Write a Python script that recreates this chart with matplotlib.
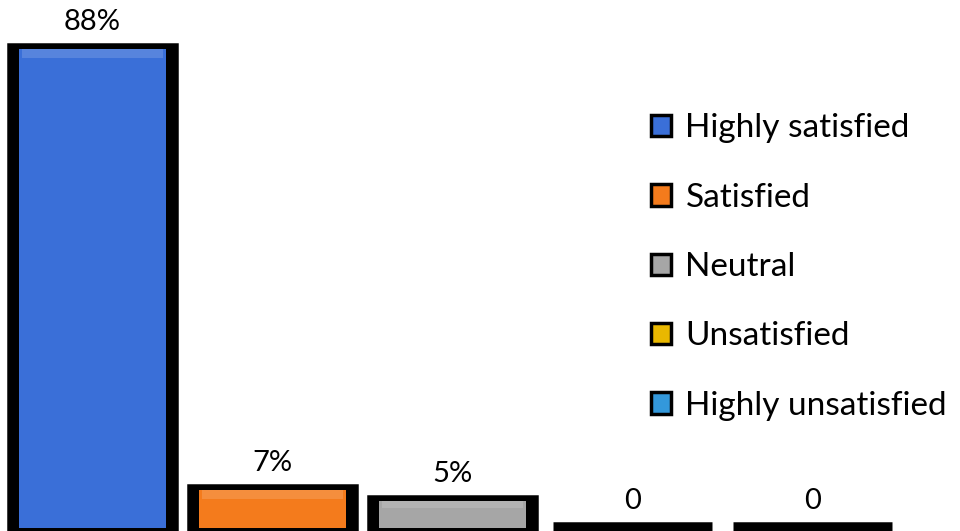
import matplotlib
matplotlib.use("Agg")
import matplotlib.pyplot as plt
from matplotlib.patches import Patch
import numpy as np

plt.rcParams['font.family'] = ['Lato', 'DejaVu Sans']

categories = ['Highly satisfied', 'Satisfied', 'Neutral', 'Unsatisfied', 'Highly unsatisfied']
values = [88, 7, 5, 0, 0]
bar_labels = ['88%', '7%', '5%', '0', '0']
colors = ['#3A6FD8', '#F47B1C', '#A6A6A6', '#E9B800', '#3398DB']

fig = plt.figure(figsize=(9.6, 5.31), dpi=100)
ax = fig.add_axes([0, 0, 1, 1])

x = np.arange(len(categories))

# black frame behind each bar, then the coloured face on top
ax.bar(x, values, width=0.88, color='black', edgecolor='black', linewidth=9)
faces = ax.bar(x, values, width=0.82, color=colors, edgecolor='none')

# soft highlight near the top of each face (bevel look)
for rect, c in zip(faces, colors):
    if rect.get_height() <= 0:
        continue
    h = rect.get_height()
    band = min(1.6, h * 0.25)
    ax.bar(rect.get_x() + rect.get_width() / 2, band, bottom=h - band,
           width=rect.get_width() * 0.96, color='white', alpha=0.15, edgecolor='none')

for xi, v, lab in zip(x, values, bar_labels):
    ax.annotate(lab, (xi, v), xytext=(0, 10), textcoords='offset points',
                ha='center', va='bottom', fontsize=21, color='black')

ax.set_xlim(-92.5 / 180, (960 - 92.5) / 180)
ax.set_ylim(-0.55, 97.0)
ax.axis('off')

handles = [Patch(facecolor=c, edgecolor='black', linewidth=2.5) for c in colors]
ax.legend(handles, categories, loc='center left', bbox_to_anchor=(0.664, 0.497),
          frameon=False, fontsize=24, labelspacing=1.18, handlelength=0.62,
          handleheight=0.62, handletextpad=0.42, borderaxespad=0)

fig.savefig('out.png', dpi=100)
